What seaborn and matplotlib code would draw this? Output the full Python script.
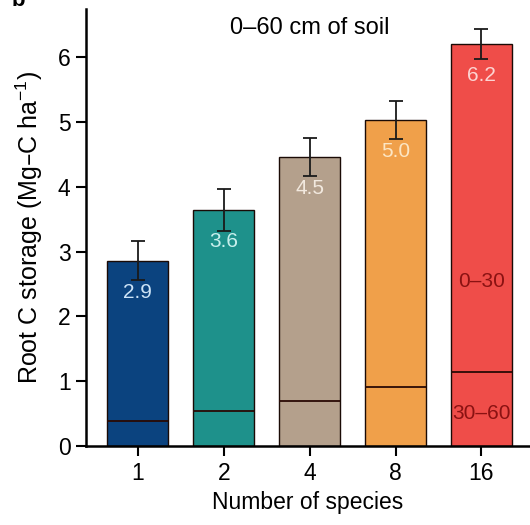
import numpy as np
import pandas as pd
import seaborn as sns
import matplotlib.pyplot as plt

# data
species = ['1', '2', '4', '8', '16']
root_c = [2.86, 3.64, 4.46, 5.03, 6.20]
root_err = [0.30, 0.32, 0.29, 0.29, 0.23]
deep_c = [0.39, 0.545, 0.69, 0.91, 1.15]     # 30-60 cm portion
bar_labels = ['2.9', '3.6', '4.5', '5.0', '6.2']

bar_colors = ['#0b437f', '#1e918b', '#b4a08c', '#f0a04a', '#ef4d49']
label_colors = ['#cde4f7', '#c8efec', '#f2e9df', '#fce6c4', '#fcd4d2']

sns.set_style('ticks')
plt.rcParams['font.family'] = ['Liberation Sans', 'DejaVu Sans']
plt.rcParams['mathtext.default'] = 'regular'
for key in ['text.color', 'axes.labelcolor', 'xtick.color', 'ytick.color']:
    plt.rcParams[key] = 'black'

df = pd.DataFrame({'species': species, 'root_c': root_c})

fig = plt.figure(figsize=(5.3, 5.25), dpi=100)
ax = fig.add_axes([0.162, 0.150, 0.838, 0.833])

sns.barplot(data=df, x='species', y='root_c', hue='species', palette=bar_colors,
            legend=False, width=0.71, edgecolor='#1a0a05', linewidth=1.0, ax=ax,
            saturation=1)

xs = np.arange(len(species))
ax.errorbar(xs, root_c, yerr=root_err, fmt='none', ecolor='#1a1a1a',
            elinewidth=1.3, capsize=5, capthick=1.3, zorder=5)
ax.hlines(deep_c, xs - 0.355, xs + 0.355, color='#2a0a05', linewidth=1.3, zorder=4)

for x, y, lab, c in zip(xs, root_c, bar_labels, label_colors):
    ax.text(x, y - 0.49, lab, ha='center', va='center', color=c, fontsize=15)

ax.text(4, 2.54, '0–30', ha='center', va='center', color='#8a1212', fontsize=15)
ax.text(4, 0.5, '30–60', ha='center', va='center', color='#8a1212', fontsize=15)
ax.text(2, 6.45, '0–60 cm of soil', ha='center', va='center', fontsize=17)

ax.set_xlim(-0.605, 4.565)
ax.set_ylim(0, 6.74)
ax.set_yticks([0, 1, 2, 3, 4, 5, 6])
ax.set_xlabel('Number of species', fontsize=16.5, labelpad=5)
ax.set_ylabel('Root C storage (Mg–C ha$^{-1}$)', fontsize=18, labelpad=9)
ax.tick_params(axis='both', labelsize=16.5, width=1.5, length=7, pad=4, color='black')
for side in ['top', 'right']:
    ax.spines[side].set_visible(False)
for side in ['left', 'bottom']:
    ax.spines[side].set_linewidth(1.8)
    ax.spines[side].set_color('black')

fig.text(0.035, 1.0, 'b', fontsize=16, fontweight='bold', ha='center', va='center')

fig.savefig('out.png', dpi=100)
